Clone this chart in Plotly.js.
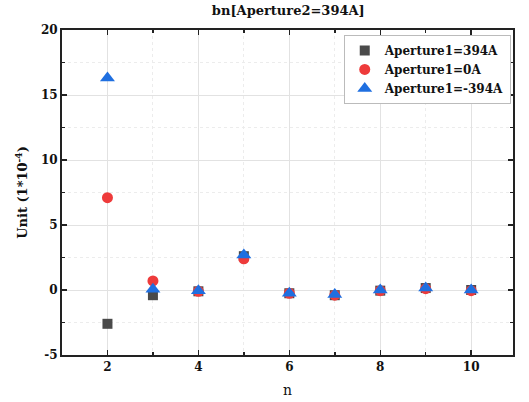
<!DOCTYPE html>
<html><head><meta charset="utf-8">
<script src="https://cdn.plot.ly/plotly-3.0.1.min.js"></script>
<style>body{margin:0;background:#fff}#c{width:529px;height:402px}</style>
</head><body><div id="c"></div>
<script>
const n = [2, 3, 4, 5, 6, 7, 8, 9, 10];
const seriesNames = ['Aperture1=394A', 'Aperture1=0A', 'Aperture1=-394A'];
const bPos = [-2.6, -0.4, -0.1, 2.6, -0.25, -0.4, -0.05, 0.15, 0.0];
const bZero = [7.1, 0.7, -0.1, 2.4, -0.25, -0.4, -0.05, 0.1, -0.05];
const bNeg = [16.3, 0.05, -0.05, 2.7, -0.25, -0.35, 0.0, 0.15, 0.0];
const yTicks = [-5, 0, 5, 10, 15, 20];
const xTicks = [2, 4, 6, 8, 10];

const fam = 'DejaVu Serif, Liberation Serif, serif';
const traces = [
  {x: n, y: bPos, name: seriesNames[0], mode: 'markers', type: 'scatter',
   marker: {symbol: 'square', size: 10, color: '#4a4a4a'}},
  {x: n, y: bZero, name: seriesNames[1], mode: 'markers', type: 'scatter',
   marker: {symbol: 'circle', size: 11, color: '#ee3b3b'}},
  {x: n, y: bNeg, name: seriesNames[2], mode: 'markers', type: 'scatter',
   marker: {symbol: 'triangle-up', size: 13, color: '#1f6fe0'}}
];
const axisCommon = {
  showline: true, linecolor: '#222', linewidth: 2, mirror: 'all',
  ticks: 'inside', ticklen: 5, tickwidth: 1.5, tickcolor: '#222',
  showgrid: true, gridcolor: '#e2e2e2', gridwidth: 1, zeroline: false,
  tickfont: {family: fam, size: 12, color: '#111', weight: 'bold'}
};
const layout = {
  width: 529, height: 402,
  margin: {l: 62, r: 16, t: 30, b: 47},
  paper_bgcolor: '#fff', plot_bgcolor: '#fff',
  title: {text: '<b>bn[Aperture2=394A]</b>', x: 0.545, xanchor: 'center', y: 0.985, yanchor: 'top',
          font: {family: fam, size: 13, color: '#111'}},
  xaxis: Object.assign({}, axisCommon, {
    range: [1, 10.92], tickvals: xTicks, ticktext: xTicks.map(String),
    minor: {dtick: 1, tick0: 1, showgrid: true, gridcolor: '#ececec', griddash: 'dot', ticks: 'inside', ticklen: 3, tickcolor: '#222'},
    title: {text: 'n', font: {family: fam, size: 14, color: '#111'}, standoff: 12}
  }),
  yaxis: Object.assign({}, axisCommon, {
    range: [-5, 20], tickvals: yTicks, ticktext: yTicks.map(String),
    minor: {dtick: 2.5, tick0: 0, showgrid: true, gridcolor: '#ececec', griddash: 'dot', ticks: 'inside', ticklen: 3, tickcolor: '#222'},
    title: {text: '<b>Unit (1*10<sup>-4</sup>)</b>', font: {family: fam, size: 13, color: '#111'}, standoff: 10}
  }),
  legend: {x: 0.995, xanchor: 'right', y: 0.985, yanchor: 'top',
           bgcolor: '#fff', bordercolor: '#bbb', borderwidth: 1,
           font: {family: fam, size: 12, color: '#111', weight: 'bold'},
           itemwidth: 30, tracegroupgap: 0},
  showlegend: true
};
Plotly.newPlot('c', traces, layout, {displayModeBar: false, staticPlot: true});
</script></body></html>
